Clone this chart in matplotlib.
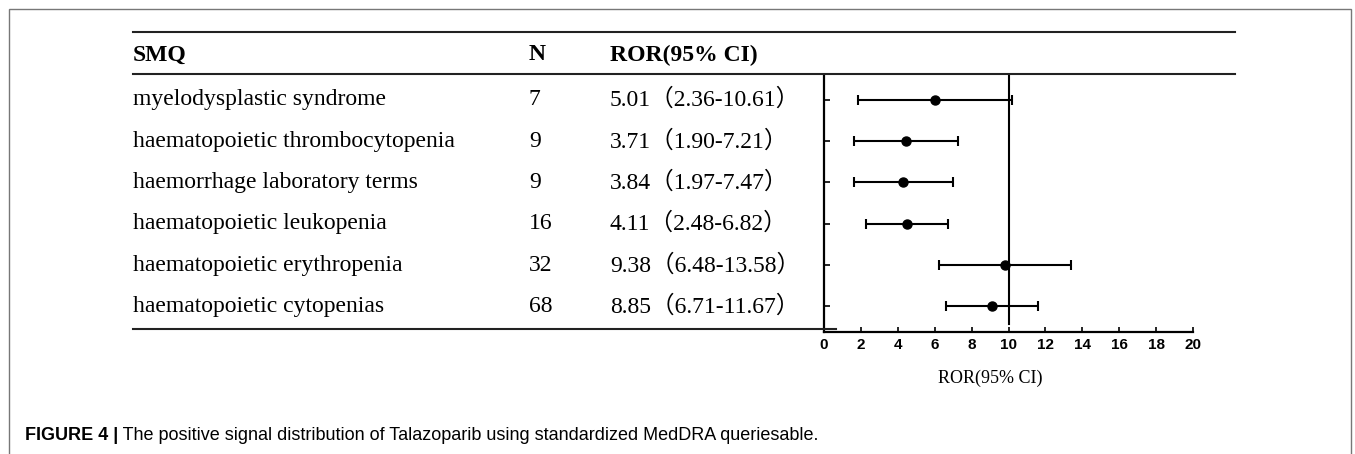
import matplotlib
matplotlib.use("Agg")
import matplotlib.pyplot as plt
from matplotlib.lines import Line2D
from matplotlib.patches import Rectangle
import matplotlib.transforms as mtransforms

# table contents
smq = ["myelodysplastic syndrome",
       "haematopoietic thrombocytopenia",
       "haemorrhage laboratory terms",
       "haematopoietic leukopenia",
       "haematopoietic erythropenia",
       "haematopoietic cytopenias"]
n_cases = [7, 9, 9, 16, 32, 68]
ror = [5.01, 3.71, 3.84, 4.11, 9.38, 8.85]
ci_lo = [2.36, 1.90, 1.97, 2.48, 6.48, 6.71]
ci_hi = [10.61, 7.21, 7.47, 6.82, 13.58, 11.67]

# positions of the marks as drawn in the forest panel
plot_ror = [6.0, 4.45, 4.3, 4.5, 9.8, 9.1]
plot_lo = [1.85, 1.65, 1.6, 2.3, 6.25, 6.6]
plot_hi = [10.2, 7.25, 7.0, 6.7, 13.4, 11.6]

W, H = 1355, 454
fig = plt.figure(figsize=(W / 100, H / 100), dpi=100)

def fx(px):
    return px / W

def fy(py):
    return 1 - py / H

serif = ["Liberation Serif", "Noto Sans CJK SC"]
sans = ["Liberation Sans", "DejaVu Sans"]

ax = fig.add_axes([fx(824), fy(332), fx(1193) - fx(824), fy(75) - fy(332)])
rows = list(range(1, len(smq) + 1))
ax.set_ylim(6.62, 0.40)
ax.set_xlim(0, 20)

xerr = [[r - l for r, l in zip(plot_ror, plot_lo)],
        [h - r for r, h in zip(plot_ror, plot_hi)]]
ax.errorbar(plot_ror, rows, xerr=xerr, fmt="o", color="black", ms=6.5,
            elinewidth=1.5, capsize=3.5, capthick=1.5)
ax.plot([10, 10], [0.40, 6.42], color="black", lw=1.5)

for s in ["top", "right"]:
    ax.spines[s].set_visible(False)
for s in ["left", "bottom"]:
    ax.spines[s].set_linewidth(1.6)

ax.set_yticks(rows)
ax.set_yticklabels([])
ax.tick_params(axis="y", direction="in", length=4, width=1.2)
ax.set_xticks(range(0, 21, 2))
ax.tick_params(axis="x", direction="in", length=3.5, width=1.2, pad=4)
for lab in ax.get_xticklabels():
    lab.set_family(sans)
    lab.set_fontweight("bold")
    lab.set_fontsize(11)

fig.text(fx(990), fy(378), "ROR(95% CI)", family=serif, fontsize=13,
         ha="center", va="center")

# table text, rows aligned with the forest panel
tr = mtransforms.blended_transform_factory(fig.transFigure, ax.transData)
for i, k in enumerate(rows):
    ax.text(fx(133), k, smq[i], transform=tr, family=serif, fontsize=17,
            va="center", ha="left", clip_on=False)
    ax.text(fx(529), k, str(n_cases[i]), transform=tr, family=serif,
            fontsize=17, va="center", ha="left", clip_on=False)
    txt = f"{ror[i]:.2f}（{ci_lo[i]:.2f}-{ci_hi[i]:.2f}）"
    ax.text(fx(610), k, txt, transform=tr, family=serif, fontsize=17,
            va="center", ha="left", clip_on=False)

fig.text(fx(133), fy(55), "SMQ", family=serif, fontsize=17,
         fontweight="bold", va="center")
fig.text(fx(529), fy(55), "N", family=serif, fontsize=17,
         fontweight="bold", va="center")
fig.text(fx(610), fy(55), "ROR(95% CI)", family=serif, fontsize=17,
         fontweight="bold", va="center")

# table rules
rule_kw = dict(color="#222222", lw=1.5, transform=fig.transFigure)
fig.add_artist(Line2D([fx(133), fx(1235)], [fy(32), fy(32)], **rule_kw))
fig.add_artist(Line2D([fx(133), fx(1235)], [fy(74), fy(74)], **rule_kw))
fig.add_artist(Line2D([fx(133), fx(836)], [fy(329), fy(329)], **rule_kw))

# outer frame
fig.add_artist(Rectangle((fx(9), -0.01), fx(1351) - fx(9), fy(9) + 0.01,
                         transform=fig.transFigure, fill=False,
                         edgecolor="#777777", lw=1))

# caption
cap1 = fig.text(fx(25), fy(435), "FIGURE 4 |", family=sans, fontsize=13,
                fontweight="bold", va="center")
fig.canvas.draw()
bb = cap1.get_window_extent(renderer=fig.canvas.get_renderer())
fig.text(bb.x1 / W, fy(435),
         " The positive signal distribution of Talazoparib using standardized MedDRA queriesable.",
         family=sans, fontsize=13, va="center")

fig.savefig("out.png", dpi=100)
